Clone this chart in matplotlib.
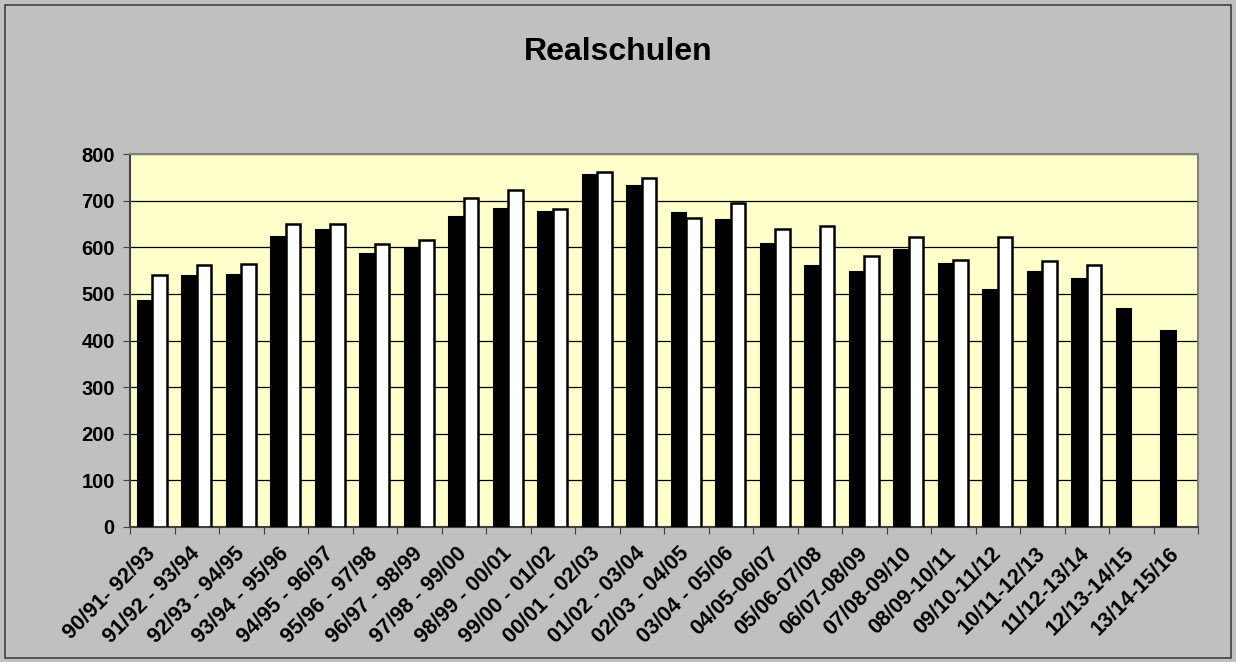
import matplotlib

matplotlib.use("Agg")
import matplotlib.pyplot as plt
import numpy as np
from matplotlib.patches import Rectangle

plt.rcParams["font.family"] = ["Liberation Sans", "DejaVu Sans"]
plt.rcParams["font.weight"] = "bold"

periods = [
    "90/91- 92/93", "91/92 - 93/94", "92/93 - 94/95", "93/94 - 95/96",
    "94/95 - 96/97", "95/96 - 97/98", "96/97 - 98/99", "97/98 - 99/00",
    "98/99 - 00/01", "99/00 - 01/02", "00/01 - 02/03", "01/02 - 03/04",
    "02/03 - 04/05", "03/04 - 05/06", "04/05-06/07", "05/06-07/08",
    "06/07-08/09", "07/08-09/10", "08/09-10/11", "09/10-11/12",
    "10/11-12/13", "11/12-13/14", "12/13-14/15", "13/14-15/16",
]
black_vals = [485, 538, 541, 622, 636, 585, 596, 665, 682, 676, 754, 732,
              673, 658, 607, 560, 547, 594, 564, 508, 546, 531, 468, 420]
white_vals = [541, 561, 564, 649, 650, 607, 616, 706, 723, 681, 762, 748,
              663, 695, 639, 645, 582, 623, 572, 623, 571, 562, None, None]

W, H, DPI = 1236, 662, 100
fig = plt.figure(figsize=(W / DPI, H / DPI), dpi=DPI, facecolor="#c0c0c0")
fig.add_artist(Rectangle((5 / W, 4 / H), 1 - 10 / W, 1 - 9 / H, transform=fig.transFigure,
                         fill=False, edgecolor="#404040", linewidth=1.2))

ax = fig.add_axes([130 / W, 1 - 527 / H, (1198 - 130) / W, (527 - 154) / H])
ax.set_facecolor("#ffffcc")

x = np.arange(len(periods))
bw = 0.33
ax.bar(x - bw / 2, black_vals, bw, color="black", edgecolor="black", linewidth=1.5, zorder=3)
wx = [xi for xi, v in zip(x, white_vals) if v is not None]
wv = [v for v in white_vals if v is not None]
ax.bar(np.array(wx) + bw / 2, wv, bw, color="white", edgecolor="black", linewidth=1.8, zorder=3)

ax.set_xlim(-0.5, len(periods) - 0.5)
ax.set_ylim(0, 800)
ax.set_yticks(np.arange(0, 801, 100))
ax.yaxis.grid(True, color="black", linewidth=0.9, zorder=1)
ax.set_axisbelow(True)

# category boundaries carry the tick marks, centres carry the labels
ax.set_xticks(np.append(x - 0.5, len(periods) - 0.5))
ax.set_xticklabels([""] * (len(periods) + 1))
ax.set_xticks(x, minor=True)
ax.set_xticklabels(periods, minor=True, rotation=45, ha="right", va="center",
                   rotation_mode="anchor", fontsize=15.5, fontweight="bold")
ax.tick_params(axis="x", which="minor", length=0, pad=17)
ax.tick_params(axis="x", which="major", length=5, direction="out", color="#404040")
ax.tick_params(axis="y", length=5, direction="out", labelsize=14.5, color="#404040", pad=6)
for lbl in ax.get_yticklabels():
    lbl.set_fontweight("bold")

for s in ax.spines.values():
    s.set_color("#808080")
    s.set_linewidth(1.5)
ax.spines["left"].set_color("#404040")
ax.spines["bottom"].set_color("#404040")

fig.text(618 / W, 1 - 52 / H, "Realschulen", ha="center", va="center",
         fontsize=23, fontweight="bold")

fig.savefig("out.png", dpi=DPI, facecolor=fig.get_facecolor())
